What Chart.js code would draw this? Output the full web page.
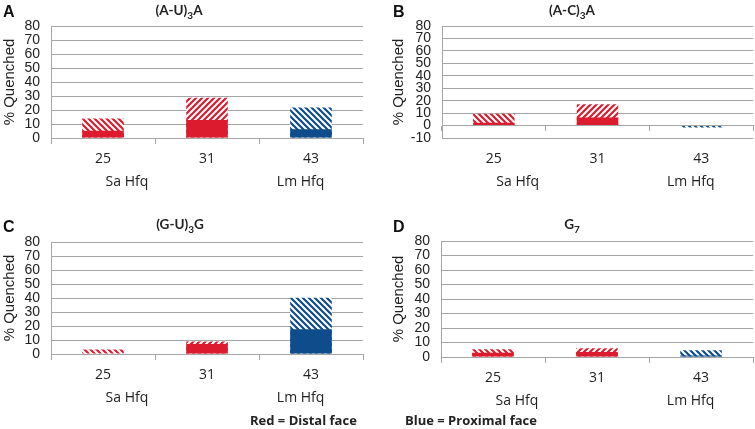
<!DOCTYPE html>
<html>
<head>
<meta charset="utf-8">
<script src="https://cdn.jsdelivr.net/npm/chart.js@4.4.1/dist/chart.umd.min.js"></script>
<style>
  body { margin: 0; background: #fff; }
  #page { position: relative; width: 755px; height: 429px; overflow: hidden; }
  .panel { position: absolute; }
  .letter { position: absolute; font: bold 16px "Liberation Sans", Arial, sans-serif; line-height: 16px; color: #111; }
  .title { position: absolute; font: bold 13.5px Lato, sans-serif; line-height: 16px; color: #222; transform: translateX(-50%); white-space: nowrap; }
  .title sub { font-size: 10px; vertical-align: -4px; line-height: 0; }
  .legend { position: absolute; font: bold 13px "Open Sans", sans-serif; line-height: 15px; color: #222; white-space: nowrap; }
</style>
</head>
<body>
<div id="page">
  <div class="panel" style="left:0;top:0;width:370px;height:200px"><canvas id="chartA"></canvas></div>
  <div class="panel" style="left:389px;top:0;width:366px;height:200px"><canvas id="chartB"></canvas></div>
  <div class="panel" style="left:0;top:205px;width:370px;height:224px"><canvas id="chartC"></canvas></div>
  <div class="panel" style="left:389px;top:205px;width:366px;height:224px"><canvas id="chartD"></canvas></div>

  <div class="letter" style="left:3px;top:4px">A</div>
  <div class="letter" style="left:393px;top:4px">B</div>
  <div class="letter" style="left:3px;top:219px">C</div>
  <div class="letter" style="left:393px;top:219px">D</div>

  <div class="title" style="left:179px;top:2px">(A-U)<sub>3</sub>A</div>
  <div class="title" style="left:572px;top:2px">(A-C)<sub>3</sub>A</div>
  <div class="title" style="left:180px;top:216px">(G-U)<sub>3</sub>G</div>
  <div class="title" style="left:572px;top:216px">G<sub>7</sub></div>

  <div class="legend" style="left:250px;top:413px">Red = Distal face</div>
  <div class="legend" style="left:405px;top:413px">Blue = Proximal face</div>
</div>

<script>
// categories and group labels under the x axis
const categories = ['25', '31', '43'];
const groupLabels = ['Sa Hfq', 'Lm Hfq'];

// solid part and total (solid + hatched) of each bar, % quenched
const solidA = [5.1, 12.9, 6.3];
const totalA = [13.9, 28.8, 21.7];

const solidB = [2.2, 6.5, -0.3];
const totalB = [9.4, 17.2, -1.6];

const solidC = [0, 7.1, 17.6];
const totalC = [3.3, 9.0, 40.2];

const solidD = [3.0, 3.5, 1.0];
const totalD = [5.3, 6.0, 4.6];

// y axis range
const yMax = 80;
const yStep = 10;

const RED = '#dc1c2e';
const BLUE = '#0f4c8c';
const GRID = '#a6a6a6';
const TEXT = '#222';

// where the group labels sit on the category axis
const groupAt = [0.23, 1.9];

function hatch(color, dir) {
  const c = document.createElement('canvas');
  c.width = 6; c.height = 6;
  const g = c.getContext('2d');
  g.fillStyle = '#fff';
  g.fillRect(0, 0, 6, 6);
  g.strokeStyle = color;
  g.lineWidth = 2.2;
  g.beginPath();
  if (dir === '/') {
    g.moveTo(-1, 7); g.lineTo(7, -1);
    g.moveTo(-1, 1); g.lineTo(1, -1);
    g.moveTo(5, 7); g.lineTo(7, 5);
  } else {
    g.moveTo(-1, -1); g.lineTo(7, 7);
    g.moveTo(-1, 5); g.lineTo(1, 7);
    g.moveTo(5, -1); g.lineTo(7, 1);
  }
  g.stroke();
  return g.createPattern(c, 'repeat');
}

const solidColors = [RED, RED, BLUE];
const hatchColors = [hatch(RED, '\\'), hatch(RED, '/'), hatch(BLUE, '\\')];

// draws "25 31 43" and the Sa Hfq / Lm Hfq group labels
const catLabels = {
  id: 'catLabels',
  afterDraw(chart) {
    const { ctx, chartArea } = chart;
    const x = chart.scales.x;
    ctx.save();
    ctx.fillStyle = TEXT;
    ctx.font = '14px "Open Sans"';
    ctx.textAlign = 'center';
    ctx.textBaseline = 'middle';
    categories.forEach((c, i) => ctx.fillText(c, x.getPixelForValue(i), chartArea.bottom + 21));
    groupLabels.forEach((g, i) => ctx.fillText(g, x.getPixelForValue(groupAt[i]), chartArea.bottom + 44));
    ctx.restore();
  }
};

function makeChart(id, solid, total, yMin, axisW, pad) {
  const ctx = document.getElementById(id).getContext('2d');
  return new Chart(ctx, {
    type: 'bar',
    data: {
      labels: categories,
      datasets: [
        { data: solid, backgroundColor: solidColors, borderWidth: 0, order: 0 },
        { data: total, backgroundColor: hatchColors, borderWidth: 0, order: 1 }
      ]
    },
    options: {
      responsive: true,
      maintainAspectRatio: false,
      animation: false,
      layout: { padding: { top: pad.top, right: pad.right, bottom: pad.bottom, left: 0 } },
      plugins: { legend: { display: false }, tooltip: { enabled: false } },
      datasets: { bar: { categoryPercentage: 0.4, barPercentage: 1, grouped: false } },
      scales: {
        x: {
          position: { y: 0 },
          offset: true,
          grid: { display: true, drawOnChartArea: false, offset: true, tickLength: 5, color: GRID },
          border: { color: GRID },
          ticks: { display: false }
        },
        y: {
          min: yMin,
          max: yMax,
          afterFit(s) { s.width = axisW; },
          ticks: {
            stepSize: yStep,
            autoSkip: false,
            padding: 11,
            color: TEXT,
            font: { family: 'Liberation Sans', size: 14 }
          },
          grid: { color: GRID, drawTicks: false },
          border: { color: GRID },
          title: {
            display: true,
            text: '% Quenched',
            color: TEXT,
            font: { family: 'Liberation Sans', size: 15 },
            padding: { top: 1, bottom: 0 }
          }
        }
      }
    },
    plugins: [catLabels]
  });
}

makeChart('chartA', solidA, totalA, 0, 51, { top: 26, right: 7, bottom: 62 });
makeChart('chartB', solidB, totalB, -10, 53, { top: 26, right: 2, bottom: 62 });
makeChart('chartC', solidC, totalC, 0, 51, { top: 37, right: 7, bottom: 75 });
makeChart('chartD', solidD, totalD, 0, 52, { top: 36, right: 2, bottom: 72 });
</script>
</body>
</html>
